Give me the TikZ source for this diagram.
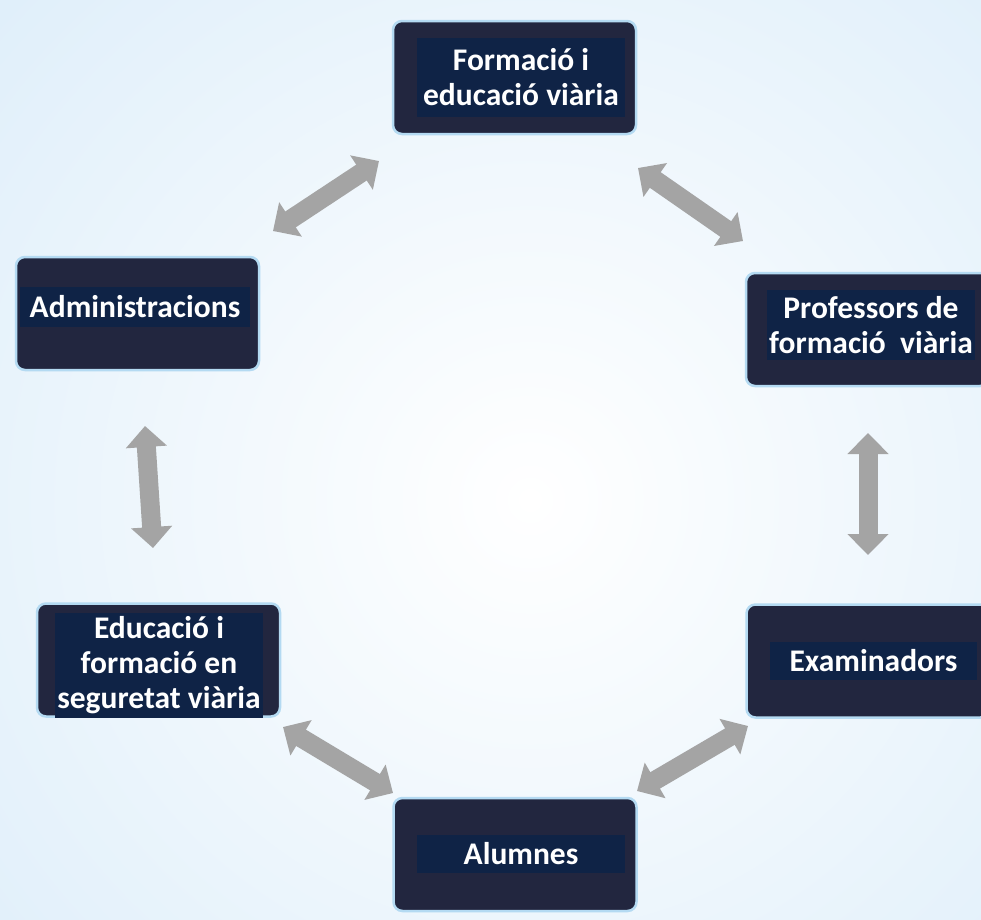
\documentclass[tikz,border=0pt]{standalone}
\usepackage{fontspec}
\setmainfont{Carlito}
\usetikzlibrary{arrows.meta}
\definecolor{bgblue}{HTML}{DAECF9}
\definecolor{boxnavy}{HTML}{22263F}
\definecolor{textnavy}{HTML}{0F2346}
\definecolor{glow}{HTML}{B4DAF2}
\definecolor{arrowgray}{HTML}{A4A4A4}
\tikzset{
  box/.style={draw=glow, line width=2.5pt, fill=boxnavy, rounded corners=9pt,
    minimum width=243pt, minimum height=113pt, inner sep=0pt},
  lbl/.style={fill=textnavy, text=white, font=\bfseries\fontsize{31.5}{35}\selectfont,
    align=center, inner sep=0pt, minimum width=208pt},
  link/.style={arrowgray, line width=19pt,
    {Triangle[length=21pt,width=40pt]}-{Triangle[length=21pt,width=40pt]}}
}
\begin{document}
\begin{tikzpicture}[x=1pt,y=-1pt]
\useasboundingbox (0,0) rectangle (981,919);
\clip (0,0) rectangle (981,919);
% background
\fill[bgblue] (0,0) rectangle (981,919);
\shade[inner color=white, outer color=bgblue] (-330,-360) rectangle (1390,1360);

% boxes
\node[box] (form) at (514.5,77.5) {};
\node[box] (adm)  at (137.5,313.5) {};
\node[box] (prof) at (867.5,329.5) {};
\node[box] (edu)  at (158.5,660) {};
\node[box] (exam) at (868,661) {};
\node[box] (alum) at (515,854.5) {};

% labels
\node[lbl, minimum height=79pt] (formT) at (521,77.5) {Formació i\\educació viària};
\node[lbl, minimum width=230pt, minimum height=40pt] (admT) at (135,307) {Administracions};
\node[lbl, minimum height=70pt] (profT) at (871,325) {Professors de\\formació\ \ viària};
\node[lbl, minimum height=105pt] (eduT) at (159,665.5) {Educació i\\formació en\\seguretat viària};
\node[lbl, minimum width=207pt, minimum height=38pt] (examT) at (873.5,661) {Examinadors};
\node[lbl, minimum height=38pt] (alumT) at (521,854) {Alumnes};

% arrow ends
\coordinate (a1) at (273,231);
\coordinate (a2) at (379,161);
\coordinate (b1) at (638,168);
\coordinate (b2) at (743,241);
\coordinate (c1) at (145,426);
\coordinate (c2) at (153,548);
\coordinate (d1) at (868,433);
\coordinate (d2) at (868,555);
\coordinate (e1) at (283,727);
\coordinate (e2) at (393,793);
\coordinate (f1) at (637,791);
\coordinate (f2) at (748,726);

\draw[link] (a1) -- (a2);
\draw[link] (b1) -- (b2);
\draw[link] (c1) -- (c2);
\draw[link] (d1) -- (d2);
\draw[link] (e1) -- (e2);
\draw[link] (f1) -- (f2);
\end{tikzpicture}
\end{document}
